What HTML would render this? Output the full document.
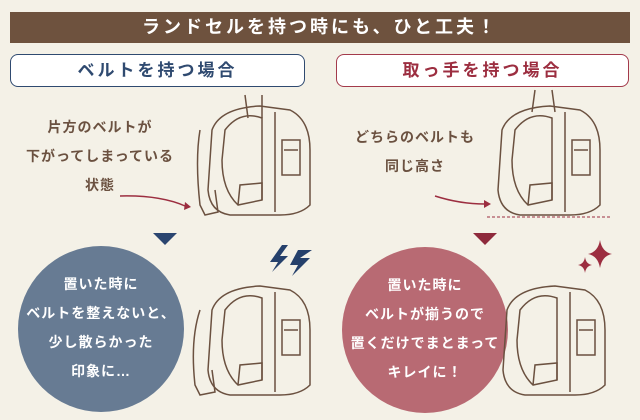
<!DOCTYPE html><html><head><meta charset="utf-8"><style>
body{margin:0;width:640px;height:420px;overflow:hidden;background:#f4f1e7;font-family:"Liberation Sans","Noto Sans CJK JP",sans-serif;font-weight:bold;position:relative}
.a{position:absolute}
.t{color:#6b5140;font-size:14px;letter-spacing:1px;line-height:29px}
.c{color:#fff;font-size:14px;text-align:center;line-height:29px;letter-spacing:1px}
</style></head><body>
<div class="a" style="left:10px;top:12px;width:620px;height:31px;background:#6e523e;color:#fff;font-size:18px;text-align:center;line-height:31px;letter-spacing:3px">ランドセルを持つ時にも、ひと工夫！</div>
<div class="a" style="left:10px;top:54px;width:293px;height:31px;border:1.5px solid #2f4a70;border-radius:8px;background:#fff;color:#2f4a70;font-size:17px;text-align:center;line-height:31px;letter-spacing:3px">ベルトを持つ場合</div>
<div class="a" style="left:336px;top:54px;width:291px;height:31px;border:1.5px solid #a33a4b;border-radius:8px;background:#fff;color:#9c2e40;font-size:17px;text-align:center;line-height:31px;letter-spacing:3px">取っ手を持つ場合</div>
<div class="a t" style="left:10px;top:113px;width:180px;text-align:center">片方のベルトが<br>下がってしまっている<br>状態</div>
<div class="a t" style="left:345px;top:123px;width:140px;text-align:center">どちらのベルトも<br>同じ高さ</div>
<div class="a" style="left:18px;top:246px;width:166px;height:166px;border-radius:50%;background:#677b93"></div>
<div class="a c" style="left:18px;top:270px;width:166px">置いた時に<br>ベルトを整えないと、<br>少し散らかった<br>印象に…</div>
<div class="a" style="left:342px;top:247px;width:166px;height:166px;border-radius:50%;background:#b86a73"></div>
<div class="a c" style="left:342px;top:271px;width:166px">置いた時に<br>ベルトが揃うので<br>置くだけでまとまって<br>キレイに！</div>
<svg class="a" style="left:0;top:0" width="640" height="420" fill="none" stroke="#6b5140" stroke-width="1.5">
<polygon points="153,233 177,233 165,245" fill="#2a4570" stroke="none"/>
<polygon points="473,233 497,233 485,245" fill="#8e2a3c" stroke="none"/>
<path d="M120,196 Q160,195 185,206" stroke="#9c2e40"/><polygon points="185,202 191,207 184,210" fill="#9c2e40" stroke="none"/>
<path d="M435,196 Q460,204 485,204" stroke="#9c2e40"/><polygon points="484,200 491,204 484,208" fill="#9c2e40" stroke="none"/>
<line x1="487" y1="217" x2="610" y2="217" stroke="#9c2e40" stroke-dasharray="3,2" stroke-width="1"/>
<g id="bp">
<path d="M212,130 Q220,108 260,106 L290,110 Q310,120 310,150 L310,205 Q300,215 280,215 L230,215 Q210,212 208,190 Z"/>
<path d="M275,112 L275,212 M282,140 L300,140 L300,175 L282,175 Z M284,150 L298,150"/>
<path d="M225,130 Q240,110 262,118 L262,200 L238,205 Q222,190 222,160 Z"/>
<path d="M238,205 L240,185 L262,183 L262,200"/>
</g>
<use href="#bp" transform="translate(0,180)"/>
<use href="#bp" transform="translate(290,0)"/>
<use href="#bp" transform="translate(295,180)"/>
<path d="M200,130 Q195,160 200,205 L205,215 L218,212 L215,190" />
<path d="M245,95 L248,118 M262,95 L262,118 M535,90 L532,112 M552,90 L555,112"/>
<path d="M200,310 Q190,340 195,385 L200,395 L215,392 L212,370"/>
<path d="M282,245 L270,262 L278,262 L272,272 L288,256 L280,256 L288,245Z M298,250 L290,265 L298,265 L292,276 L310,258 L300,258 L312,250Z" fill="#25406b" stroke="none"/>
<path d="M600,240 Q602,252 612,254 Q602,256 600,268 Q598,256 588,254 Q598,252 600,240Z M585,257 Q586,264 592,265 Q586,266 585,273 Q584,266 578,265 Q584,264 585,257Z" fill="#9c2e40" stroke="none"/>
</svg>
</body></html>
